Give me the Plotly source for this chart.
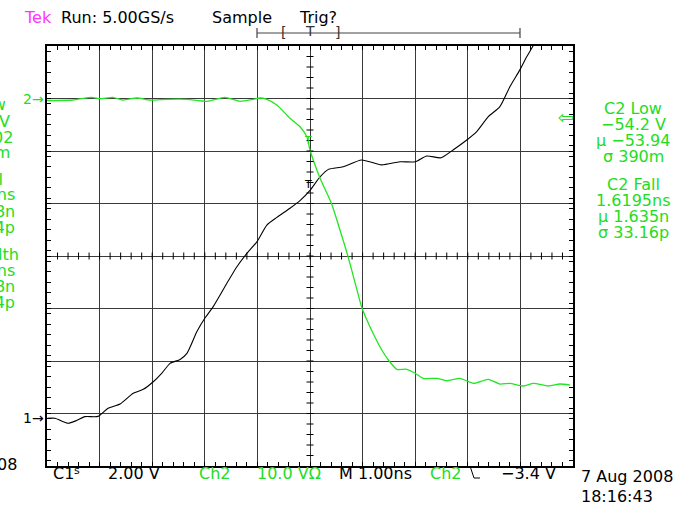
import plotly.graph_objects as go

# ---------------- data ----------------
# time in ns relative to trigger (1.00 ns/div), voltage in V
t_ch1 = [-4.99, -4.85, -4.60, -4.44, -4.28, -4.03, -3.84, -3.61, -3.36, -3.17,
         -2.98, -2.82, -2.66, -2.47, -2.34, -2.15, -2.00, -1.84, -1.58, -1.39,
         -1.20, -1.01, -0.82, -0.63, -0.38, -0.19, 0.00, 0.19, 0.35, 0.63,
         0.98, 1.36, 1.71, 2.00, 2.22, 2.49, 2.72, 2.98, 3.17, 3.39,
         3.61, 3.80, 3.99, 4.12, 4.25, 4.37]
v_ch1 = [0.02, 0.02, -0.17, -0.07, 0.08, 0.09, 0.40, 0.56, 0.97, 1.12,
         1.41, 1.73, 2.11, 2.26, 2.49, 3.32, 3.83, 4.27, 5.16, 5.79,
         6.30, 6.74, 7.38, 7.67, 8.02, 8.31, 8.70, 9.21, 9.50, 9.60,
         9.86, 9.67, 9.79, 9.79, 10.01, 9.94, 10.24, 10.62, 10.94, 11.51,
         11.89, 12.65, 13.29, 13.79, 14.24, 14.80]

t_ch2 = [-5.00, -4.51, -4.15, -3.99, -3.75, -3.56, -3.29, -3.04, -2.72, -2.34,
         -1.96, -1.62, -1.33, -1.08, -0.95, -0.82, -0.63, -0.38, -0.19, -0.06,
         0.00, 0.19, 0.41, 0.57, 0.72, 0.86, 0.99, 1.14, 1.33, 1.49,
         1.65, 1.84, 2.00, 2.15, 2.41, 2.60, 2.85, 3.11, 3.39, 3.61,
         3.80, 4.06, 4.25, 4.53, 4.75, 4.94]
v_ch2 = [-0.38, -0.29, 0.23, -0.04, 0.23, -0.29, 0.10, -0.29, -0.15, -0.15,
         -0.53, 0.23, -0.53, -0.15, 0.10, -0.15, -1.24, -3.77, -5.37, -7.28,
         -9.81, -15.14, -20.04, -25.05, -30.00, -35.20, -39.96, -43.47, -47.28, -49.81,
         -51.58, -51.58, -52.34, -53.30, -53.30, -53.75, -53.30, -54.25, -53.49, -54.38,
         -54.25, -54.76, -54.25, -54.76, -54.38, -54.57]

ch1_range = [-1.8, 14.2]    # 2.00 V/div, ground at -3.1 div
ch2_range = [-70.0, 10.0]   # 10.0 V/div, ground at +3 div
t_range = [-5.0, 5.0]

right_lines = ["C2 Low", "\u221254.2 V", "\u00b5 \u221253.94", "\u03c3 390m",
               "C2 Fall", "1.6195ns", "\u00b5 1.635n", "\u03c3 33.16p"]
left_lines = ["C1 Low", "\u22123.40 V", "\u00b5 \u22123.402", "\u03c3 19.2m",
              "C1 Fall", "1.618ns", "\u00b5 1.618n", "\u03c3 28.4p",
              "C1 Width", "4.128ns", "\u00b5 4.128n", "\u03c3 22.4p"]

# ---------------- layout geometry ----------------
W, H = 690, 506
L, R, T, B = 47, 117, 46, 40
PW, PH = W - L - R, H - T - B

GREEN = "#22e622"
TGREEN = "#22dd22"
FONT = "DejaVu Sans"


def px(x):
    return (x - L) / PW


def py(y):
    return (H - B - y) / PH


fig = go.Figure()
fig.add_trace(go.Scatter(x=t_ch1, y=v_ch1, mode="lines", yaxis="y",
                         line=dict(color="black", width=1.1, shape="spline", smoothing=0.6),
                         showlegend=False))
fig.add_trace(go.Scatter(x=t_ch2, y=v_ch2, mode="lines", yaxis="y2",
                         line=dict(color=GREEN, width=1.3, shape="spline", smoothing=0.6),
                         showlegend=False))

grid = "#3a3a3a"
fig.update_layout(
    width=W, height=H,
    margin=dict(l=L, r=R, t=T, b=B, pad=0),
    paper_bgcolor="white", plot_bgcolor="white",
    font=dict(family=FONT, size=16, color="black"),
    xaxis=dict(range=t_range, dtick=1, tick0=0, showgrid=True, gridcolor=grid,
               gridwidth=1, zeroline=False, showticklabels=False,
               ticks="inside", ticklen=4, tickcolor="black",
               showline=True, linecolor="black", linewidth=1.5, mirror="ticks",
               minor=dict(dtick=0.2, ticks="inside", ticklen=4,
                          tickcolor="black", showgrid=False)),
    yaxis=dict(range=ch1_range, dtick=2, tick0=0.2, showgrid=True, gridcolor=grid,
               gridwidth=1, zeroline=False, showticklabels=False,
               ticks="inside", ticklen=4, tickcolor="black",
               showline=True, linecolor="black", linewidth=1.5, mirror="ticks",
               minor=dict(dtick=0.4, ticks="inside", ticklen=4,
                          tickcolor="black", showgrid=False)),
    yaxis2=dict(range=ch2_range, overlaying="y", visible=False),
)

# center-line minor ticks
shapes = []
yc = (ch1_range[0] + ch1_range[1]) / 2
hy = 3.5 / PH * (ch1_range[1] - ch1_range[0])
hx = 3.5 / PW * (t_range[1] - t_range[0])
for i in range(1, 50):
    x = t_range[0] + i * 0.2
    shapes.append(dict(type="line", xref="x", yref="y", x0=x, x1=x,
                       y0=yc - hy, y1=yc + hy, line=dict(color="black", width=1)))
for i in range(1, 40):
    y = ch1_range[0] + i * 0.4
    shapes.append(dict(type="line", xref="x", yref="y", x0=-hx, x1=hx,
                       y0=y, y1=y, line=dict(color="black", width=1)))

# record bar at top
bar_y = 33
shapes.append(dict(type="line", xref="paper", yref="paper", x0=px(257), x1=px(520),
                   y0=py(bar_y), y1=py(bar_y), line=dict(color="#444", width=1.2)))
for xe in (257, 520):
    shapes.append(dict(type="line", xref="paper", yref="paper", x0=px(xe), x1=px(xe),
                       y0=py(bar_y - 5), y1=py(bar_y + 5), line=dict(color="#444", width=1.2)))
# trigger slope symbol at bottom
shapes.append(dict(type="path", xref="paper", yref="paper",
                   path=f"M {px(470)} {py(466)} L {px(474)} {py(478)} L {px(480)} {py(478)}",
                   line=dict(color="black", width=1)))
fig.update_layout(shapes=shapes)

ann = []


def text(s, x, y, color="black", size=16, anchor="center"):
    ann.append(dict(text=s, x=px(x), y=py(y), xref="paper", yref="paper",
                    xanchor=anchor, yanchor="middle", showarrow=False,
                    font=dict(family=FONT, size=size, color=color)))


# header
text("Tek", 22, 17, "#ff33ff", anchor="left")
text("Run: 5.00GS/s", 59, 17, anchor="left")
text("Sample", 210, 17, anchor="left")
text("Trig?", 297, 17, anchor="left")
text("[", 283, 32, "#333", size=14)
text("T", 310, 31, "#333", size=14)
text("]", 337, 32, "#333", size=14)

# right measurement panel
ys = [108, 124, 140, 156, 184, 200, 216, 232]
for s, y in zip(right_lines, ys):
    text(s, 633, y, TGREEN)

# left (clipped) measurement panel
ysl = [105, 121, 137, 152, 179, 195, 211, 227, 254, 270, 286, 302]
xr = [8, 12, 15, 12, 5, 17, 17, 17, 21, 17, 17, 17]
for s, y, x in zip(left_lines, ysl, xr):
    text(s, x, y, TGREEN, anchor="right")
text("7 Aug 2008", 19, 464, anchor="right")

# ground / trigger markers
text("2\u2192", 46, 99, TGREEN, size=14, anchor="right")
text("1\u2192", 46, 418, "black", size=14, anchor="right")
text("\u21e6", 566, 117, TGREEN, size=19)
text("T", 308, 140, TGREEN, size=11)
text("T", 308, 184, "black", size=11)

# bottom status line
text("C1", 51, 473, anchor="left")
text("s", 77, 470, size=11)
text("2.00 V", 106, 473, anchor="left")
text("Ch2", 197, 473, TGREEN, anchor="left")
text("10.0 V\u03a9", 255, 473, TGREEN, anchor="left")
text("M 1.00ns", 337, 473, anchor="left")
text("Ch2", 428, 473, TGREEN, anchor="left")
text("\u22123.4 V", 558, 473, anchor="right")
text("7 Aug 2008", 579, 477, anchor="left")
text("18:16:43", 579, 496, anchor="left")

fig.update_layout(annotations=ann)
fig.write_html("out.html", config={"displayModeBar": False},
               post_script="document.body.style.margin='0';")
